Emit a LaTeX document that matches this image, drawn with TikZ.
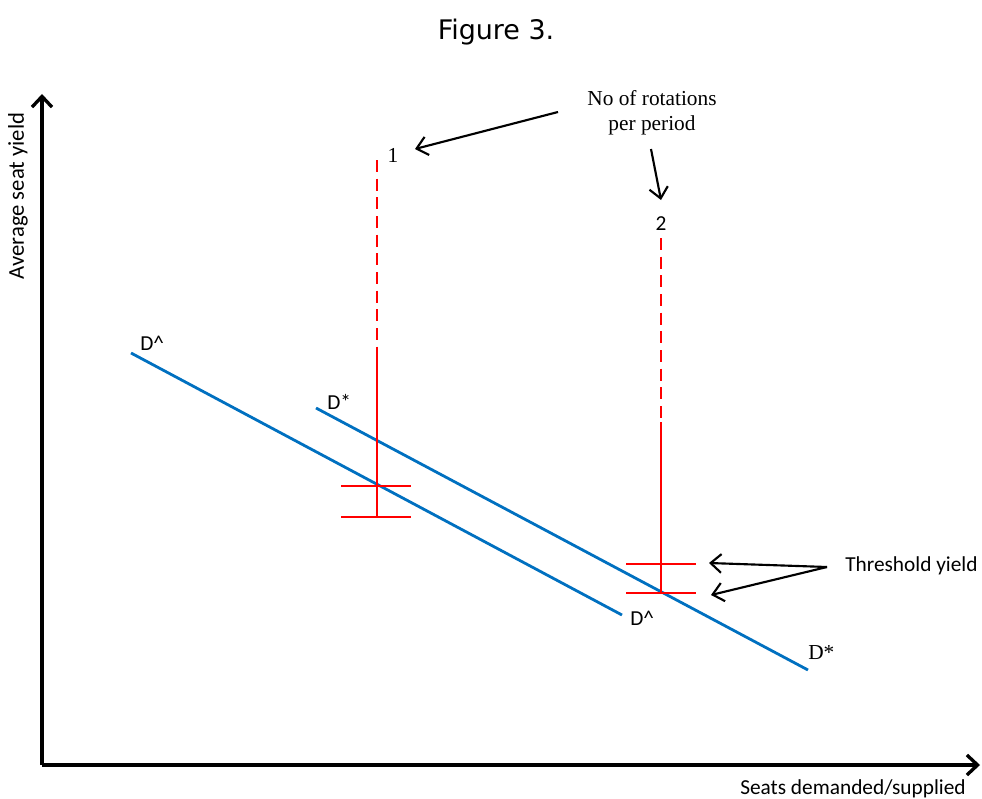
\documentclass[tikz,border=0pt]{standalone}
\usepackage{fontspec}
\setmainfont{Liberation Serif}
\newfontfamily\calfont{Carlito}
\newfontfamily\verfont{DejaVu Sans}
\usetikzlibrary{arrows.meta}
\definecolor{dblue}{RGB}{0,112,192}
\definecolor{dred}{RGB}{255,0,0}
\begin{document}
\begin{tikzpicture}[x=0.75pt,y=-0.75pt,
  axis/.style={line width=3pt,-{Straight Barb[length=8pt,width=15pt,line width=2.5pt]}},
  demand/.style={dblue,line width=2.1pt},
  redsolid/.style={dred,line width=2.1pt},
  reddash/.style={dred,line width=2.1pt,dash pattern=on 9pt off 5pt},
  pointer/.style={black,line width=1.6pt,-{Straight Barb[length=8pt,width=14pt,line width=1.6pt]}},
  caltext/.style={font=\calfont\fontsize{16}{19}\selectfont,inner sep=0pt},
  sertext/.style={font=\fontsize{16}{19}\selectfont,inner sep=0pt}]
\useasboundingbox (0,0) rectangle (982,799);
% title
\node[font=\verfont\fontsize{20.2}{24}\selectfont,inner sep=0pt] (title) at (496,32) {Figure 3.};
% axes
\coordinate (O) at (42,765);
\coordinate (ytop) at (42,94);
\coordinate (xend) at (980,765);
\draw[axis] (O) -- (ytop);
\draw[axis] (O) -- (xend);
\node[caltext,rotate=90,font=\calfont\fontsize{17}{20}\selectfont] (ylab) at (18,196) {Average seat yield};
\node[caltext] (xlab) at (853,789) {Seats demanded/supplied};
% demand curves
\coordinate (dh1) at (131,353);
\coordinate (dh2) at (622,615);
\coordinate (ds1) at (316,408);
\coordinate (ds2) at (808,670);
\draw[demand] (dh1) -- (dh2);
\draw[demand] (ds1) -- (ds2);
\node[caltext,anchor=west] (dhlab1) at (140,343) {D\^{}};
\node[caltext,anchor=west] (dslab1) at (327,402) {D*};
\node[caltext,anchor=west] (dhlab2) at (630,618) {D\^{}};
\node[sertext,anchor=west] (dslab2) at (808,653) {D*};
% red line 1
\coordinate (r1top) at (377,160);
\coordinate (r1mid) at (377,350);
\coordinate (r1bot) at (377,517);
\draw[reddash] (r1top) -- (r1mid);
\draw[redsolid] (r1mid) -- (r1bot);
\coordinate (c1aL) at (341,486); \coordinate (c1aR) at (411,486);
\coordinate (c1bL) at (341,517); \coordinate (c1bR) at (411,517);
\draw[redsolid] (c1aL) -- (c1aR);
\draw[redsolid] (c1bL) -- (c1bR);
% red line 2
\coordinate (r2top) at (661,238);
\coordinate (r2mid) at (661,422);
\coordinate (r2bot) at (661,593);
\draw[reddash] (r2top) -- (r2mid);
\draw[redsolid] (r2mid) -- (r2bot);
\coordinate (c2aL) at (626,564); \coordinate (c2aR) at (696,564);
\coordinate (c2bL) at (626,593); \coordinate (c2bR) at (696,593);
\draw[redsolid] (c2aL) -- (c2aR);
\draw[redsolid] (c2bL) -- (c2bR);
% rotation labels
\node[sertext] (one) at (393,155) {1};
\node[caltext] (two) at (661,224) {2};
\node[sertext,align=center,font=\fontsize{16}{18.75}\selectfont] (rot) at (652,113) {No of rotations\\per period};
\coordinate (a1s) at (558,112);
\coordinate (a1e) at (415,149);
\coordinate (a2s) at (651,149);
\coordinate (a2e) at (661,200);
\draw[pointer] (a1s) -- (a1e);
\draw[pointer] (a2s) -- (a2e);
% threshold
\node[caltext,anchor=west] (thr) at (845,566) {Threshold yield};
\coordinate (ts) at (827,567);
\coordinate (te1) at (709,563);
\coordinate (te2) at (711,595);
\draw[pointer] (ts) -- (te1);
\draw[pointer] (ts) -- (te2);
\end{tikzpicture}
\end{document}
